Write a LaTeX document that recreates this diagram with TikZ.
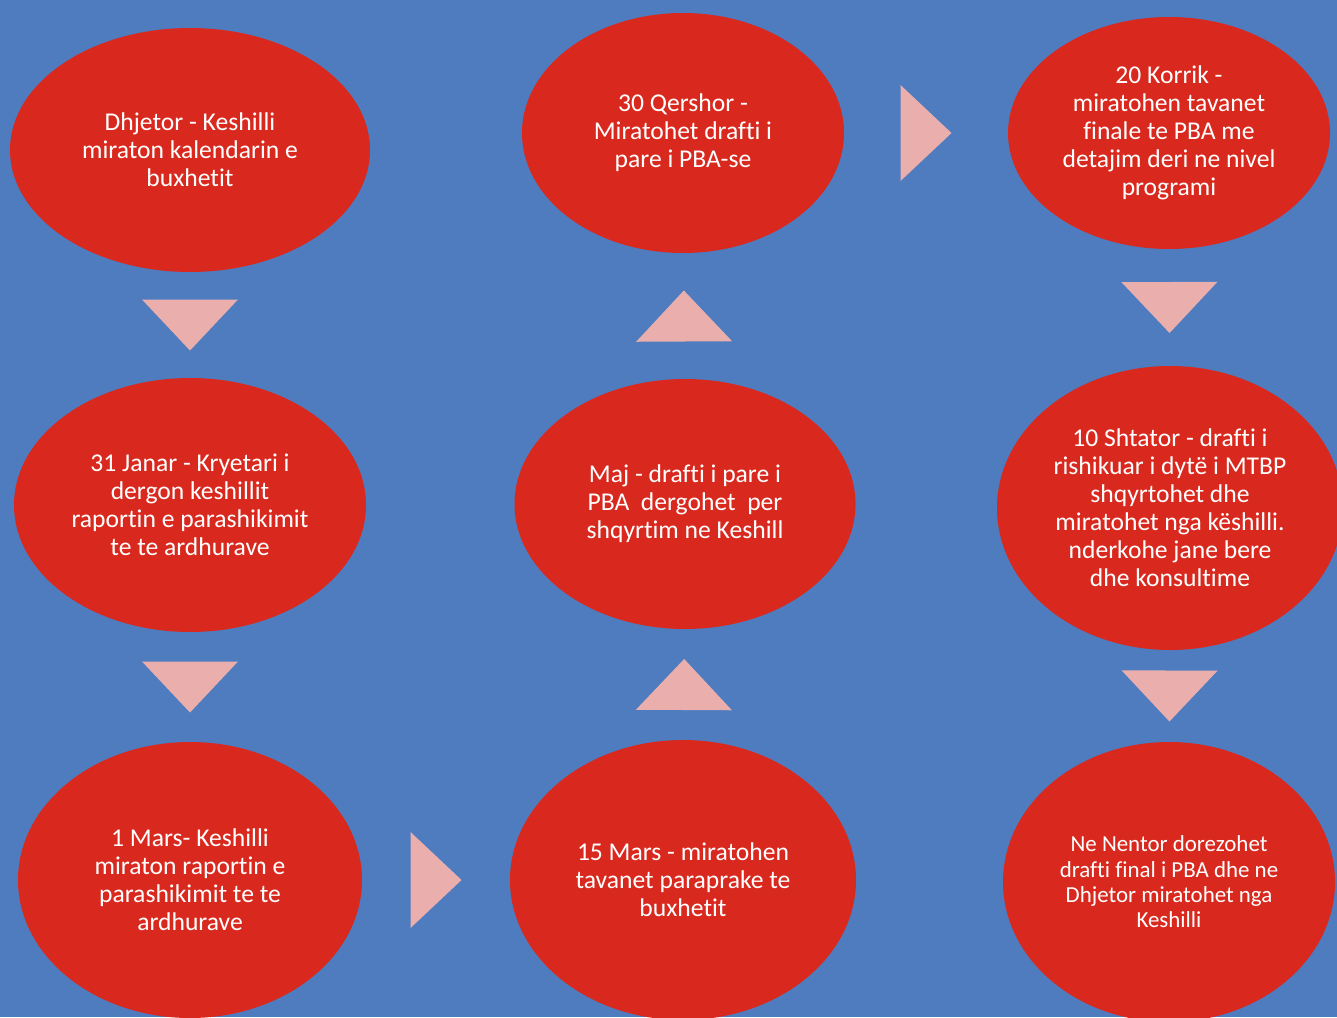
\documentclass[tikz,border=0pt]{standalone}
\usepackage{fontspec}
\setmainfont{Carlito}[Ligatures=NoCommon]
\usetikzlibrary{shapes.geometric}

\definecolor{bgblue}{HTML}{4F7CBE}
\definecolor{stagered}{HTML}{D9291E}
\definecolor{tripink}{HTML}{EAAFAD}

\begin{document}
\begin{tikzpicture}[
  x=0.75pt,y=-0.75pt,
  stage/.style={ellipse,fill=stagered,text=white,align=center,inner sep=0pt,
    font=\fontsize{19.2pt}{21pt}\selectfont},
  tri/.pic={\fill[tripink] (-25.5,-48) -- (25.5,0) -- (-25.5,48) -- cycle;},
  flow/.style={midway,sloped,allow upside down}
]
  \fill[bgblue] (0,0) rectangle (1337,1017);
  \clip (0,0) rectangle (1337,1017);

  % first column
  \node[stage,minimum width=270pt,minimum height=183pt] (dec) at (190,150)
    {Dhjetor - Keshilli\\miraton kalendarin e\\buxhetit};
  \node[stage,minimum width=264pt,minimum height=190.5pt] (jan) at (190,505)
    {31 Janar - Kryetari i\\dergon keshillit\\raportin e parashikimit\\te te ardhurave};
  \node[stage,minimum width=258pt,minimum height=207pt] (mar1) at (190,880)
    {1 Mars- Keshilli\\miraton raportin e\\parashikimit te te\\ardhurave};

  % second column
  \node[stage,minimum width=259.5pt,minimum height=210pt] (mar15) at (683,880)
    {15 Mars - miratohen\\tavanet paraprake te\\buxhetit};
  \node[stage,minimum width=255.75pt,minimum height=187.5pt] (maj) at (685,504)
    {Maj - drafti i pare i\\PBA\ \ dergohet\ \ per\\shqyrtim ne Keshill};
  \node[stage,minimum width=241.5pt,minimum height=180pt] (qer) at (683,133)
    {30 Qershor -\\Miratohet drafti i\\pare i PBA-se};

  % third column
  \node[stage,minimum width=241.5pt,minimum height=174pt] (kor) at (1169,133)
    {20 Korrik -\\miratohen tavanet\\finale te PBA me\\detajim deri ne nivel\\programi};
  \node[stage,minimum width=259.5pt,minimum height=213pt] (sht) at (1170,508)
    {10 Shtator - drafti i\\rishikuar i dytë i MTBP\\shqyrtohet dhe\\miratohet nga këshilli.\\nderkohe jane bere\\dhe konsultime};
  \node[stage,minimum width=249pt,minimum height=210pt,
    font=\fontsize{17.2pt}{19pt}\selectfont] (nen) at (1169,882)
    {Ne Nentor dorezohet\\drafti final i PBA dhe ne\\Dhjetor miratohet nga\\Keshilli};

  \path (dec) -- (jan) pic[flow]{tri};
  \path (jan) -- (mar1) pic[flow]{tri};
  \path (mar1) -- (mar15) pic[flow]{tri};
  \path (mar15) -- (maj) pic[flow]{tri};
  \path (maj) -- (qer) pic[flow]{tri};
  \path (qer) -- (kor) pic[flow]{tri};
  \path (kor) -- (sht) pic[flow]{tri};
  \path (sht) -- (nen) pic[flow]{tri};
\end{tikzpicture}
\end{document}
